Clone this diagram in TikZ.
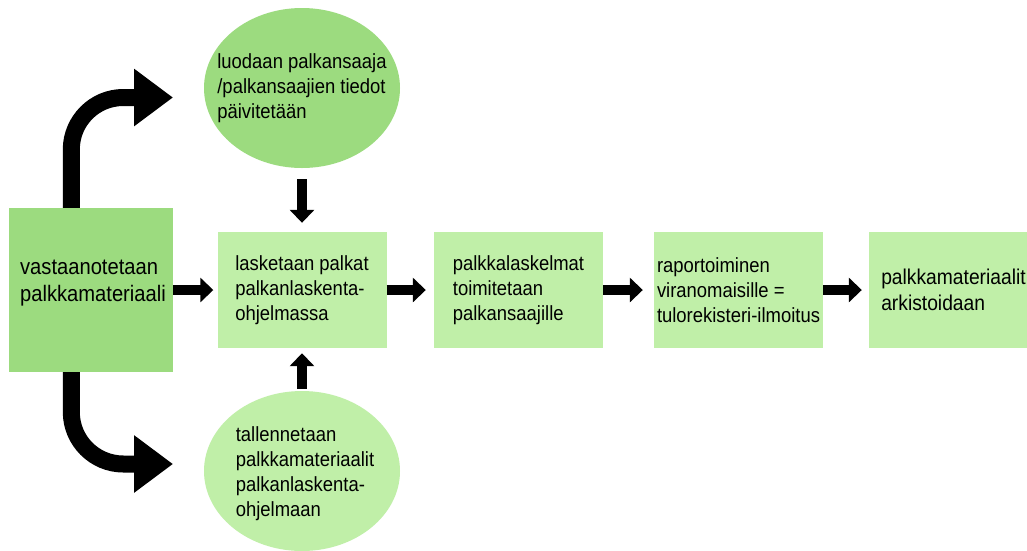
\documentclass[tikz,border=0pt]{standalone}
\usepackage{fontspec}
\setmainfont{Liberation Sans}[FakeStretch=0.9]
\usetikzlibrary{arrows.meta,shapes.geometric}
\definecolor{gdark}{HTML}{9CDB7F}
\definecolor{glight}{HTML}{C0EFA8}
\begin{document}
\begin{tikzpicture}[x=1pt,y=-1pt,
  txt/.style={font=\fontsize{20.5}{25}\selectfont, align=left, text=black, inner sep=0pt},
  boxnode/.style={txt, rectangle, fill=glight, minimum width=169pt, minimum height=116pt},
  ell/.style={ellipse, minimum width=196pt, minimum height=160pt, inner sep=0pt},
  arr/.style={line width=9.5pt, -{Triangle[width=24pt,length=13pt]}},
  bigarr/.style={line width=17pt, rounded corners=52pt, -{Triangle[width=55pt,length=39pt]}}]
\useasboundingbox (0,0) rectangle (1027,550);
\clip (0,0) rectangle (1027,550);
\fill[white] (0,0) rectangle (1027,550);

% left box
\node[rectangle, fill=gdark, minimum width=164pt, minimum height=164pt, inner sep=0pt] (L) at (91,290) {};
\node[txt, font=\fontsize{22.4}{27}\selectfont] (Lt) at (93,283) {vastaanotetaan\\palkkamateriaali};

% ellipses
\node[ell, fill=gdark] (T) at (302,88) {};
\node[txt] (Tt) at (302,88) {luodaan palkansaaja\\/palkansaajien tiedot\\päivitetään};
\node[ell, fill=glight] (Bo) at (302,471) {};
\node[txt] (Bot) at (305,474) {tallennetaan\\palkkamateriaalit\\palkanlaskenta-\\ohjelmaan};

% process boxes
\node[boxnode] (B2) at (302,290) {lasketaan palkat\\palkanlaskenta-\\ohjelmassa};
\node[boxnode] (B3) at (518.5,290) {palkkalaskelmat\\toimitetaan\\palkansaajille};
\node[boxnode] (B4) at (738.5,290) {raportoiminen\\viranomaisille =\\tulorekisteri-ilmoitus};
\node[boxnode, font=\fontsize{21.4}{26}\selectfont] (B5) at (953.5,290) {palkkamateriaalit\\arkistoidaan};

% curved arrows
\coordinate (tipT) at (173,97.5);
\coordinate (tipB) at (173,464);
\draw[bigarr] ([xshift=62.5pt]L.north west) |- (tipT);
\draw[bigarr] ([xshift=62.5pt]L.south west) |- (tipB);

% straight arrows
\draw[arr, shorten <=11pt, shorten >=9pt] (T) -- (B2);
\draw[arr, shorten <=2pt, shorten >=5pt] (Bo) -- (B2);
\draw[arr, shorten >=4pt] (L) -- (B2);
\draw[arr, shorten >=8pt] (B2) -- (B3);
\draw[arr, shorten >=11pt] (B3) -- (B4);
\draw[arr, shorten >=7pt] (B4) -- (B5);
\end{tikzpicture}
\end{document}
